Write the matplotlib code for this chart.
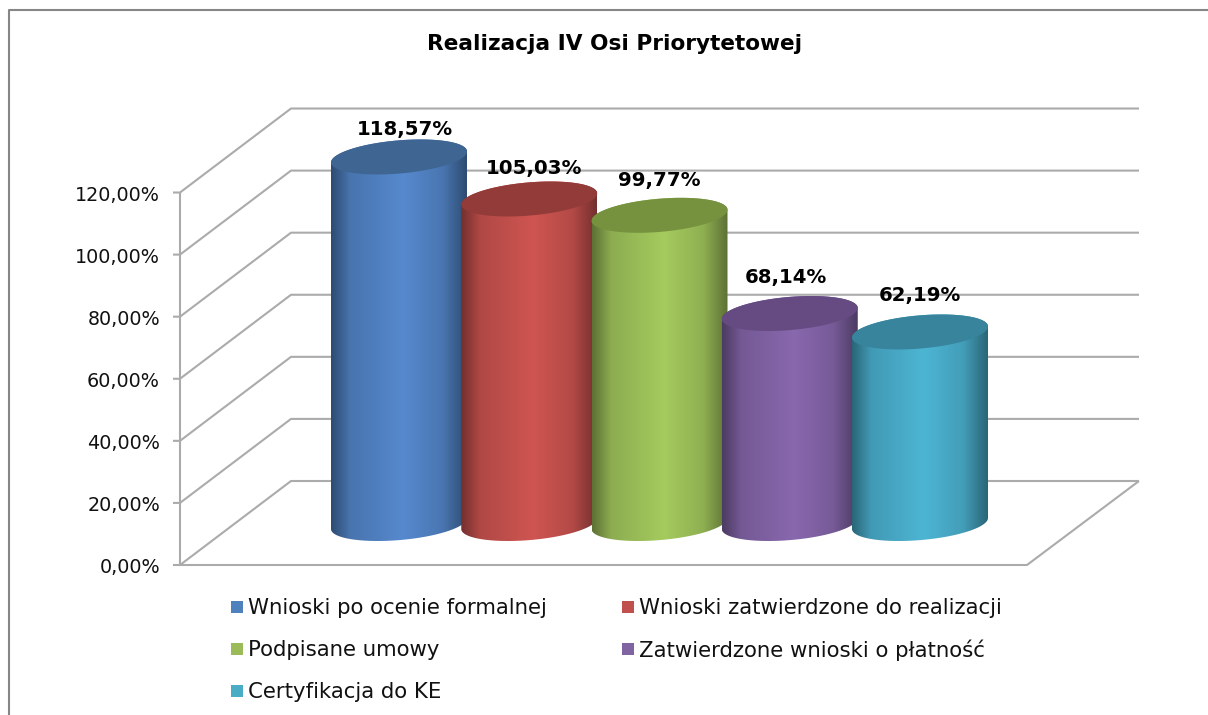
from __future__ import annotations

import matplotlib

matplotlib.use("Agg")

import matplotlib.pyplot as plt
import numpy as np
from matplotlib.colors import to_rgb
from matplotlib.patches import PathPatch, Polygon, Rectangle
from matplotlib.path import Path

TITLE = "Realizacja IV Osi Priorytetowej"
SERIES = [
    "Wnioski po ocenie formalnej",
    "Wnioski zatwierdzone do realizacji",
    "Podpisane umowy",
    "Zatwierdzone wnioski o płatność",
    "Certyfikacja do KE",
]
VALUES = [118.57, 105.03, 99.77, 68.14, 62.19]
TICKS = [0, 20, 40, 60, 80, 100, 120]

LEGEND_COLORS = ["#4F81BD", "#C0504D", "#9BBB59", "#8064A2", "#4BACC6"]
PEAK_COLORS = ["#5689CE", "#CF5551", "#A5CB5E", "#8968AE", "#4DB5D4"]
EDGE_COLORS = ["#2E4C72", "#74302E", "#5D7135", "#4C3B62", "#2B6678"]
CAP_COLORS = ["#3F6592", "#933B39", "#76923F", "#654B82", "#37849C"]

GRID_COLOR = "#ABABAB"
BORDER_COLOR = "#868686"
TEXT_COLOR = "#111111"

# pixel frame of the fake 3d box
FRONT_LEFT, FRONT_RIGHT, FRONT_Y = 180, 1027, 565
BACK_LEFT, BACK_RIGHT, BACK_Y = 291, 1139, 481
PX_PER_PERCENT = 3.104

CYL_START, CYL_STEP = 399, 130.25
CYL_HALF_W, CYL_HALF_H, CYL_BASE_Y = 68, 17.5, 525
CYL_SKEW = np.arcsin(5.5 / 17.5)

LABEL_DX = [6, 5, 0, -4, 0]
LABEL_DY = [-27, -30, -35, -36, -36]


def ellipse_arc(cx: float, cy: float, start: float, stop: float) -> np.ndarray:
    t = np.linspace(start, stop, 90)
    return np.column_stack(
        [cx + CYL_HALF_W * np.cos(t), cy - CYL_HALF_H * np.sin(t + CYL_SKEW)]
    )


def body_gradient(edge: str, peak: str) -> np.ndarray:
    edge_rgb, peak_rgb = np.array(to_rgb(edge)), np.array(to_rgb(peak))
    u = np.linspace(0, 1, 136)
    mix = np.interp(u, [0, 0.14, 0.53, 0.82, 1], [0, 0.66, 1, 0.7, 0])
    return (edge_rgb + (peak_rgb - edge_rgb) * mix[:, None])[None, :, :]


def draw_box(ax) -> None:
    line = dict(color=GRID_COLOR, linewidth=1.5, solid_capstyle="butt", zorder=1)
    for tick in TICKS:
        rise = tick * PX_PER_PERCENT
        ax.plot(
            [FRONT_LEFT - 7, FRONT_LEFT, BACK_LEFT, BACK_RIGHT],
            [FRONT_Y - rise, FRONT_Y - rise, BACK_Y - rise, BACK_Y - rise],
            **line,
        )
        ax.text(
            FRONT_LEFT - 20,
            FRONT_Y - rise + 2.5,
            f"{tick},00%",
            ha="right",
            va="center",
            fontsize=13.8,
            color=TEXT_COLOR,
        )
    top = FRONT_Y - max(TICKS) * PX_PER_PERCENT
    ax.plot([FRONT_LEFT, FRONT_LEFT], [top, FRONT_Y], **line)
    ax.plot(
        [FRONT_LEFT, FRONT_RIGHT, BACK_RIGHT],
        [FRONT_Y, FRONT_Y, BACK_Y],
        **line,
    )


def draw_cylinder(ax, index: int, value: float) -> None:
    cx = CYL_START + index * CYL_STEP
    top_y = CYL_BASE_Y - value * PX_PER_PERCENT
    z = 3 + index

    outline = np.vstack(
        [
            ellipse_arc(cx, top_y, 0, np.pi),
            ellipse_arc(cx, CYL_BASE_Y - 1.5, np.pi, 2 * np.pi),
        ]
    )
    image = ax.imshow(
        body_gradient(EDGE_COLORS[index], PEAK_COLORS[index]),
        extent=(cx - CYL_HALF_W, cx + CYL_HALF_W, CYL_BASE_Y + 20, top_y - 20),
        aspect="auto",
        zorder=z,
        interpolation="bilinear",
    )
    clip = Polygon(outline, closed=True, transform=ax.transData, facecolor="none", edgecolor="none")
    ax.add_patch(clip)
    image.set_clip_path(clip)

    cap = ellipse_arc(cx, top_y, 0, 2 * np.pi)
    ax.add_patch(
        PathPatch(Path(cap), facecolor=CAP_COLORS[index], edgecolor="none", zorder=z + 0.5)
    )

    ax.text(
        cx + LABEL_DX[index],
        top_y + LABEL_DY[index],
        f"{value:.2f}%".replace(".", ","),
        ha="center",
        va="center",
        fontsize=14.2,
        fontweight="bold",
        color="black",
        zorder=20,
    )


def draw_legend(ax) -> None:
    columns = [231, 622]
    rows = [607, 649, 691]
    for index, name in enumerate(SERIES):
        x = columns[index % 2]
        y = rows[index // 2]
        ax.add_patch(
            Rectangle((x, y - 6), 12, 12, facecolor=LEGEND_COLORS[index], edgecolor="none")
        )
        ax.text(x + 17, y + 1, name, ha="left", va="center", fontsize=15.3, color=TEXT_COLOR)


def main() -> None:
    fig = plt.figure(figsize=(12.08, 7.15), dpi=100)
    ax = fig.add_axes((0, 0, 1, 1))

    # chart border, it runs off the right and bottom of the crop
    ax.plot([9, 9, 1208], [715, 10, 10], color=BORDER_COLOR, linewidth=1.5, zorder=1)

    ax.text(
        615,
        44,
        TITLE,
        ha="center",
        va="center",
        fontsize=15.6,
        fontweight="bold",
        color="black",
    )
    draw_box(ax)
    for index, value in enumerate(VALUES):
        draw_cylinder(ax, index, value)
    draw_legend(ax)

    ax.set_xlim(0, 1208)
    ax.set_ylim(715, 0)
    ax.axis("off")
    fig.savefig("out.png", dpi=100)


if __name__ == "__main__":
    main()
